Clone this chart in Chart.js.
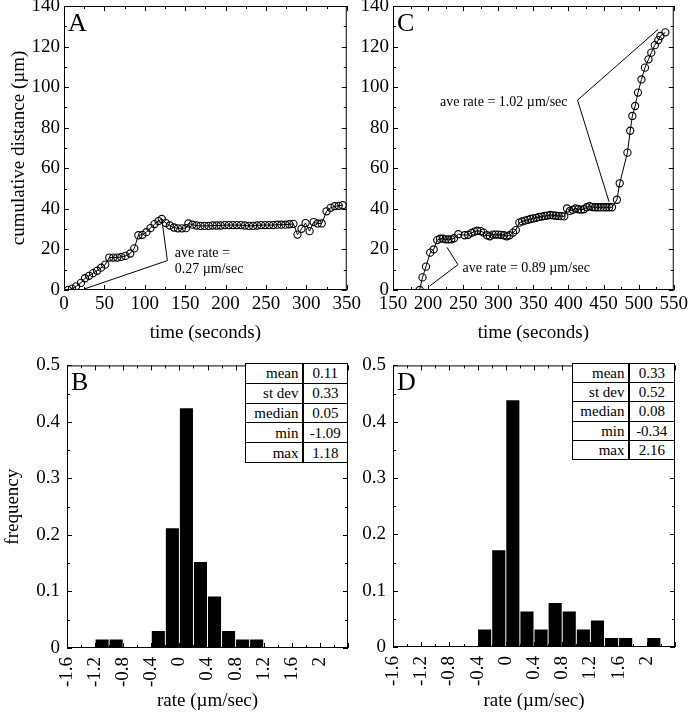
<!DOCTYPE html>
<html>
<head>
<meta charset="utf-8">
<script src="https://cdn.jsdelivr.net/npm/chart.js@4.4.1/dist/chart.umd.min.js"></script>
<style>
  body { margin:0; background:#fff; width:692px; height:719px; position:relative; overflow:hidden;
         font-family:"Liberation Serif","Times New Roman",serif; }
  canvas { position:absolute; }
  .stats { position:absolute; border-collapse:collapse; table-layout:fixed; font-size:15px; color:#000; background:#fff; }
  .stats td { border:1px solid #000; padding:0 3px; line-height:16px; white-space:nowrap; }
  .stats td.k { text-align:right; border-right:2px solid #000; }
  .stats td.v { text-align:center; }
</style>
</head>
<body>
<script>
const SERIF = '"Liberation Serif", "Times New Roman", serif';

// panel A: cumulative distance vs time
const aTime = [5,10,15,21,26,31,36,41,46,51,56,61,66,71,76,82,87,92,97,102,107,112,117,121,126,131,136,141,146,151,
  154,159,164,169,174,179,184,189,194,199,204,209,214,219,224,229,234,239,244,249,254,259,264,269,274,279,284,289,294,299,
  304,309,314,319,325,330,335,340,345];
const aDist = [0,0.7,1.8,3.5,5.8,7,8.3,9.5,11,12.5,16,16,16,16.3,16.8,18,20.5,27,27.2,28.5,30.5,32.5,34,35,33,31.8,30.8,30.4,30.4,30.5,
  32.8,32.2,31.8,31.6,31.6,31.6,31.8,31.8,31.8,32,32,32,32,32,31.8,31.6,31.6,31.8,32,32,32,32,32.2,32.2,32.2,32.4,32.6,27.3,30.2,33,
  29,33.5,32.8,32.8,38.8,40.5,41.3,41.5,41.8];

// panel C
const cTime = [188,192,197,203,208,213,217,221,225,229,233,237,243,252,257,262,266,270,275,279,284,288,292,296,300,304,308,312,316,321,
  325,330,334,338,342,346,350,354,358,362,366,370,374,378,382,386,390,394,398,402,406,410,414,418,422,426,430,434,438,442,
  446,450,454,458,462,469,473,484,488,491,495,499,504,509,514,518,523,528,531,538];
const cDist = [0,6.2,11.5,18.4,20,24.6,25.3,25.3,25,25,25,25.5,27.5,27,27.2,28.2,28.8,29.2,29,28.3,27,26.5,27.3,27.3,27.3,27.2,27,26.5,27,28.3,
  29.5,33.2,33.8,34.2,34.6,35,35.3,35.6,36,36.2,36.5,36.7,37,36.8,36.6,36.5,36.4,36.3,40.2,39,39.5,40.2,39.8,39.6,39.8,40.8,41.3,40.9,40.8,40.8,
  40.8,40.8,40.8,40.8,40.8,44.5,52.6,67.7,78.5,85.8,90.7,97.3,103.8,109.6,113.7,117,120.7,123.2,125.2,127];

// histograms (bin centres, 0.2 wide)
const bBins = [-1.1,-0.9,-0.7,-0.5,-0.3,-0.1,0.1,0.3,0.5,0.7,0.9,1.1];
const bFreq = [0.015,0.015,0,0,0.03,0.212,0.424,0.152,0.091,0.03,0.015,0.015];
const dBins = [-0.3,-0.1,0.1,0.3,0.5,0.7,0.9,1.1,1.3,1.5,1.7,1.9,2.1];
const dFreq = [0.031,0.172,0.438,0.063,0.031,0.078,0.063,0.031,0.047,0.016,0.016,0,0.016];

// stats tables
const statNames = ['mean','st dev','median','min','max'];
const bStats = ['0.11','0.33','0.05','-1.09','1.18'];
const dStats = ['0.33','0.52','0.08','-0.34','2.16'];

// tick labels
const aXTicks = [0,50,100,150,200,250,300,350];
const cXTicks = [150,200,250,300,350,400,450,500,550];
const distTicks = [0,20,40,60,80,100,120,140];
const rateTicks = [-1.6,-1.2,-0.8,-0.4,0,0.4,0.8,1.2,1.6,2];
const freqTicks = [0,0.1,0.2,0.3,0.4,0.5];

// leader lines for the rate annotations
const aLeader = [[25,0.5],[128,14.5],[121,35]];
const cLeaderHi = [[527.8,128.5],[412.9,93.6],[457.8,43.5]];
const cLeaderLo = [[202.5,2],[242.5,12.5],[227,21]];

const mids = arr => arr.slice(1).map((v, i) => (v + arr[i]) / 2);

// frame with inward ticks on all four sides, panel letter and notes
const framePlugin = {
  id: 'frame',
  afterDatasetsDraw(chart, args, o) {
    const { ctx, chartArea: a, scales: { x, y } } = chart;
    ctx.save();
    ctx.strokeStyle = '#000';
    ctx.lineWidth = 1;
    ctx.strokeRect(a.left + 0.5, a.top + 0.5, a.right - a.left - 1, a.bottom - a.top - 1);
    ctx.beginPath();
    const xt = (vals, len) => vals.forEach(v => {
      const px = Math.round(x.getPixelForValue(v)) + 0.5;
      ctx.moveTo(px, a.bottom); ctx.lineTo(px, a.bottom - len);
      ctx.moveTo(px, a.top); ctx.lineTo(px, a.top + len);
    });
    const yt = (vals, len) => vals.forEach(v => {
      const py = Math.round(y.getPixelForValue(v)) + 0.5;
      ctx.moveTo(a.left, py); ctx.lineTo(a.left + len, py);
      ctx.moveTo(a.right, py); ctx.lineTo(a.right - len, py);
    });
    xt(o.xMajor, 5); xt(mids(o.xMajor), 3);
    yt(o.yMajor, 5); yt(mids(o.yMajor), 3);
    ctx.stroke();
    ctx.fillStyle = '#000';
    ctx.textBaseline = 'alphabetic';
    ctx.textAlign = 'left';
    ctx.font = '26px ' + SERIF;
    ctx.fillText(o.letter, a.left + 4, a.top + 25);
    ctx.font = '14px ' + SERIF;
    (o.notes || []).forEach(n => ctx.fillText(n.text, x.getPixelForValue(n.x), y.getPixelForValue(n.y)));
    ctx.restore();
  }
};

function axisX(o) {
  return {
    type: 'linear', position: 'bottom', min: o.min, max: o.max, offset: false,
    afterBuildTicks: s => { s.ticks = o.ticks.map(v => ({ value: v })); },
    afterFit: s => { s.height = o.h; },
    grid: { display: false, drawTicks: false }, border: { display: false },
    ticks: { color: '#000', font: { family: SERIF, size: o.fs }, padding: o.pad,
             minRotation: o.rot || 0, maxRotation: o.rot || 0, autoSkip: false, callback: v => String(v) },
    title: { display: true, text: o.title, color: '#000', font: { family: SERIF, size: o.fs }, padding: { top: 0, bottom: o.tpad } }
  };
}
function axisY(o) {
  return {
    type: 'linear', position: 'left', min: o.min, max: o.max,
    afterBuildTicks: s => { s.ticks = o.ticks.map(v => ({ value: v })); },
    afterFit: s => { s.width = o.w; },
    grid: { display: false, drawTicks: false }, border: { display: false },
    ticks: { color: '#000', font: { family: SERIF, size: o.fs }, padding: o.pad, autoSkip: false, callback: v => String(v) },
    title: { display: !!o.title, text: o.title || '', color: '#000', font: { family: SERIF, size: o.fs }, padding: { top: o.tpad || 0, bottom: 0 } }
  };
}

function makeCanvas(rect, yW, padT, padR, xH) {
  const c = document.createElement('canvas');
  const left = rect.l - yW, top = rect.t - padT;
  c.width = rect.r + padR - left;
  c.height = rect.b + xH - top;
  c.style.left = left + 'px';
  c.style.top = top + 'px';
  document.body.appendChild(c);
  return c;
}

const pts = (xs, ys) => xs.map((v, i) => ({ x: v, y: ys[i] }));
const lineOf = arr => arr.map(p => ({ x: p[0], y: p[1] }));

function traceSet(xs, ys) {
  return { data: pts(xs, ys), showLine: true, borderColor: '#000', borderWidth: 1,
           pointRadius: 3.6, pointBorderWidth: 1.1, pointBorderColor: '#000', pointBackgroundColor: 'rgba(0,0,0,0)' };
}
function leaderSet(arr) {
  return { data: lineOf(arr), showLine: true, borderColor: '#000', borderWidth: 1, pointRadius: 0 };
}

function distChart(rect, yW, xs, ys, leaders, o) {
  const cv = makeCanvas(rect, yW, 20, 16, 55);
  new Chart(cv, {
    type: 'scatter',
    data: { datasets: [traceSet(xs, ys), ...leaders.map(leaderSet)] },
    options: {
      responsive: false, animation: false, events: [],
      layout: { padding: { top: 20, right: 16, left: 0, bottom: 0 } },
      plugins: { legend: { display: false }, tooltip: { enabled: false },
                 frame: { xMajor: o.xTicks, yMajor: distTicks, letter: o.letter, notes: o.notes } },
      scales: {
        x: axisX({ min: o.xTicks[0], max: o.xTicks[o.xTicks.length - 1], ticks: o.xTicks, h: 55, fs: 19, pad: 3,
                   title: 'time (seconds)', tpad: 1 }),
        y: axisY({ min: 0, max: 140, ticks: distTicks, w: yW, fs: 19, pad: 4, title: o.yTitle, tpad: o.ytpad })
      }
    },
    plugins: [framePlugin]
  });
}

function histChart(rect, yW, bins, freq, o) {
  const cv = makeCanvas(rect, yW, 16, 16, 719 - rect.b);
  new Chart(cv, {
    type: 'bar',
    data: { datasets: [{ data: pts(bins, freq), backgroundColor: '#000', borderWidth: 0,
                         barPercentage: 1, categoryPercentage: 0.93 }] },
    options: {
      responsive: false, animation: false, events: [],
      layout: { padding: { top: 16, right: 16, left: 0, bottom: 0 } },
      plugins: { legend: { display: false }, tooltip: { enabled: false },
                 frame: { xMajor: [...rateTicks, 2.4], yMajor: freqTicks, letter: o.letter } },
      scales: {
        x: axisX({ min: -1.6, max: 2.4, ticks: rateTicks, h: 719 - rect.b, fs: 19, pad: 9, rot: 90,
                   title: 'rate (\u00b5m/sec)', tpad: 7 }),
        y: axisY({ min: 0, max: 0.5, ticks: freqTicks, w: yW, fs: 19, pad: 7, title: o.yTitle, tpad: 2 })
      }
    },
    plugins: [framePlugin]
  });
}

function statsTable(left, top, w, kw, h, vals) {
  const t = document.createElement('table');
  t.className = 'stats';
  t.style.left = left + 'px';
  t.style.top = top + 'px';
  t.style.width = w + 'px';
  t.innerHTML = '<colgroup><col style="width:' + kw + 'px"><col></colgroup>' +
    statNames.map((n, i) => '<tr style="height:' + h + 'px"><td class="k">' + n + '</td><td class="v">' + vals[i] + '</td></tr>').join('');
  document.body.appendChild(t);
}

distChart({ l: 64, t: 6, r: 348, b: 290 }, 64, aTime, aDist, [aLeader], {
  xTicks: aXTicks, letter: 'A', yTitle: 'cumulative distance (\u00b5m)', ytpad: 8,
  notes: [{ text: 'ave rate =', x: 137, y: 16.3 }, { text: '0.27 \u00b5m/sec', x: 137, y: 8.4 }]
});
distChart({ l: 393, t: 6, r: 675, b: 290 }, 45, cTime, cDist, [cLeaderHi, cLeaderLo], {
  xTicks: cXTicks, letter: 'C',
  notes: [{ text: 'ave rate = 1.02 \u00b5m/sec', x: 217, y: 90.5 }, { text: 'ave rate = 0.89 \u00b5m/sec', x: 249, y: 9 }]
});
histChart({ l: 67, t: 363, r: 348, b: 648 }, 67, bBins, bFreq, { letter: 'B', yTitle: 'frequency' });
histChart({ l: 393, t: 363, r: 675, b: 647 }, 45, dBins, dFreq, { letter: 'D' });

statsTable(245, 363, 103, 57, 19.8, bStats);
statsTable(572, 363, 103, 56, 19.2, dStats);
</script>
</body>
</html>
